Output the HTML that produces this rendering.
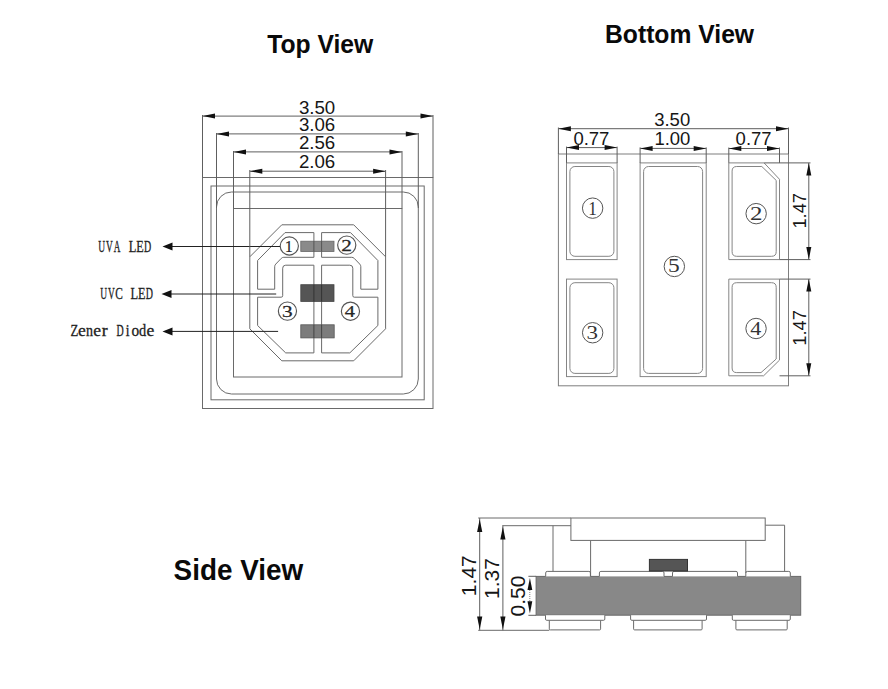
<!DOCTYPE html>
<html><head><meta charset="utf-8"><title>LED package drawing</title>
<style>
html,body{margin:0;padding:0;background:#fff;}
body{width:888px;height:689px;overflow:hidden;font-family:"Liberation Sans",sans-serif;}
svg{display:block;}
</style></head><body>
<svg width="888" height="689" viewBox="0 0 888 689">
<rect x="0" y="0" width="888" height="689" fill="#fff"/>
<text x="0" y="0" font-family="Liberation Sans" font-size="25.6" font-weight="bold" fill="#0a0a0a" transform="translate(267.2,52.65) scale(0.965,1)">Top View</text>
<text x="0" y="0" font-family="Liberation Sans" font-size="25.8" font-weight="bold" fill="#0a0a0a" transform="translate(605.0,43.4) scale(0.957,1)">Bottom View</text>
<text x="0" y="0" font-family="Liberation Sans" font-size="28.7" font-weight="bold" fill="#0a0a0a" transform="translate(173.6,580.3) scale(0.972,1)">Side View</text>
<rect x="202.5" y="177.5" width="230.5" height="231" rx="0" fill="none" stroke="#6a6a6a" stroke-width="1.0"/>
<rect x="211" y="186" width="213.2" height="213.8" rx="0" fill="none" stroke="#6a6a6a" stroke-width="1.0"/>
<rect x="216.5" y="192" width="201.8" height="202" rx="15" fill="none" stroke="#6a6a6a" stroke-width="1.0"/>
<rect x="233.5" y="208.5" width="168.5" height="168.5" rx="0" fill="none" stroke="#6a6a6a" stroke-width="1.0"/>
<polygon points="281.8,224.8 353.7,224.8 385.6,256.8 385.6,328.8 353.7,360.8 281.8,360.8 249.8,328.8 249.8,256.8" fill="none" stroke="#6a6a6a" stroke-width="1.0"/>
<path d="M285,232.6 L313.9,232.6 L313.9,257.3 L283.8,257.3 Q282.3,257.3 281.26,258.38 L275.74,264.12 Q274.7,265.2 274.7,266.7 L274.7,289.2 L257.6,289.2 L257.6,260.5 Z" fill="none" stroke="#6a6a6a" stroke-width="1.0"/>
<path d="M350.5,232.6 L321.6,232.6 L321.6,257.3 L351.7,257.3 Q353.2,257.3 354.24,258.38 L359.76,264.12 Q360.8,265.2 360.8,266.7 L360.8,289.2 L377.9,289.2 L377.9,260.5 Z" fill="none" stroke="#6a6a6a" stroke-width="1.0"/>
<path d="M282.7,268.2 Q282.7,265.2 285.7,265.2 L313.9,265.2 L313.9,352.9 L285.7,352.9 L257.6,325.5 L257.6,297.2 L281.2,297.2 Q282.7,297.2 282.7,295.7 Z" fill="none" stroke="#6a6a6a" stroke-width="1.0"/>
<path d="M352.8,268.2 Q352.8,265.2 349.8,265.2 L321.6,265.2 L321.6,352.9 L349.8,352.9 L377.9,325.5 L377.9,297.2 L354.3,297.2 Q352.8,297.2 352.8,295.7 Z" fill="none" stroke="#6a6a6a" stroke-width="1.0"/>
<rect x="300.8" y="241.2" width="33.2" height="10.3" rx="0" fill="#8a8a8a" stroke="#666" stroke-width="0.8"/>
<rect x="300.8" y="284.7" width="33.2" height="16.7" rx="0" fill="#555" stroke="#444" stroke-width="0.8"/>
<rect x="300.8" y="324.8" width="33.4" height="13.1" rx="0" fill="#7c7c7c" stroke="#555" stroke-width="0.8"/>
<line x1="313.9" y1="241.2" x2="313.9" y2="251.5" stroke="#555" stroke-width="1.0"/>
<line x1="313.9" y1="284.7" x2="313.9" y2="301.4" stroke="#333" stroke-width="1.0"/>
<line x1="313.9" y1="324.8" x2="313.9" y2="337.9" stroke="#444" stroke-width="1.0"/>
<line x1="321.6" y1="241.2" x2="321.6" y2="251.5" stroke="#555" stroke-width="1.0"/>
<line x1="321.6" y1="284.7" x2="321.6" y2="301.4" stroke="#333" stroke-width="1.0"/>
<line x1="321.6" y1="324.8" x2="321.6" y2="337.9" stroke="#444" stroke-width="1.0"/>
<circle cx="289.3" cy="246" r="9.1" fill="none" stroke="#555" stroke-width="1.15"/>
<text x="0" y="0" font-family="Liberation Serif" font-size="17" fill="#262626" stroke="#262626" stroke-width="0.25" transform="translate(285.06,251.51) scale(0.9,1)">1</text>
<circle cx="346.75" cy="245.1" r="9.1" fill="none" stroke="#555" stroke-width="1.15"/>
<text x="0" y="0" font-family="Liberation Serif" font-size="17" fill="#262626" stroke="#262626" stroke-width="0.25" transform="translate(341.26,250.58) scale(1.25,1)">2</text>
<circle cx="287.45" cy="311.1" r="9.1" fill="none" stroke="#555" stroke-width="1.15"/>
<text x="0" y="0" font-family="Liberation Serif" font-size="17" fill="#262626" stroke="#262626" stroke-width="0.25" transform="translate(281.94,317.04) scale(1.25,1)">3</text>
<circle cx="350.45" cy="311.2" r="9.1" fill="none" stroke="#555" stroke-width="1.15"/>
<text x="0" y="0" font-family="Liberation Serif" font-size="17" fill="#262626" stroke="#262626" stroke-width="0.25" transform="translate(344.76,316.74) scale(1.2,1)">4</text>
<line x1="165" y1="246.5" x2="280" y2="246.5" stroke="#222" stroke-width="1.0"/>
<polygon points="162.5,246.5 172.5,242.5 172.5,250.5" fill="#111"/>
<line x1="165" y1="294" x2="276.2" y2="294" stroke="#222" stroke-width="1.0"/>
<polygon points="161.5,294 171.5,290 171.5,298" fill="#111"/>
<line x1="165" y1="331.4" x2="278.1" y2="331.4" stroke="#222" stroke-width="1.0"/>
<polygon points="162.5,331.4 172.5,327.4 172.5,335.4" fill="#111"/>
<text x="0" y="0" font-family="Liberation Serif" font-size="15.8" fill="#222" stroke="#222" stroke-width="0.3" transform="translate(98.36,252.2) scale(0.6,1)">U</text>
<text x="0" y="0" font-family="Liberation Serif" font-size="15.8" fill="#222" stroke="#222" stroke-width="0.3" transform="translate(106.08,252.2) scale(0.59,1)">V</text>
<text x="0" y="0" font-family="Liberation Serif" font-size="15.8" fill="#222" stroke="#222" stroke-width="0.3" transform="translate(113.71,252.2) scale(0.58,1)">A</text>
<text x="0" y="0" font-family="Liberation Serif" font-size="15.8" fill="#222" stroke="#222" stroke-width="0.3" transform="translate(128.68,252.2) scale(0.79,1)">L</text>
<text x="0" y="0" font-family="Liberation Serif" font-size="15.8" fill="#222" stroke="#222" stroke-width="0.3" transform="translate(136.31,252.2) scale(0.77,1)">E</text>
<text x="0" y="0" font-family="Liberation Serif" font-size="15.8" fill="#222" stroke="#222" stroke-width="0.3" transform="translate(143.99,252.2) scale(0.63,1)">D</text>
<text x="0" y="0" font-family="Liberation Serif" font-size="15.8" fill="#222" stroke="#222" stroke-width="0.3" transform="translate(100.16,299.4) scale(0.6,1)">U</text>
<text x="0" y="0" font-family="Liberation Serif" font-size="15.8" fill="#222" stroke="#222" stroke-width="0.3" transform="translate(107.88,299.4) scale(0.59,1)">V</text>
<text x="0" y="0" font-family="Liberation Serif" font-size="15.8" fill="#222" stroke="#222" stroke-width="0.3" transform="translate(115.13,299.4) scale(0.72,1)">C</text>
<text x="0" y="0" font-family="Liberation Serif" font-size="15.8" fill="#222" stroke="#222" stroke-width="0.3" transform="translate(130.48,299.4) scale(0.79,1)">L</text>
<text x="0" y="0" font-family="Liberation Serif" font-size="15.8" fill="#222" stroke="#222" stroke-width="0.3" transform="translate(138.11,299.4) scale(0.77,1)">E</text>
<text x="0" y="0" font-family="Liberation Serif" font-size="15.8" fill="#222" stroke="#222" stroke-width="0.3" transform="translate(145.79,299.4) scale(0.63,1)">D</text>
<text x="0" y="0" font-family="Liberation Serif" font-size="15.8" fill="#222" stroke="#222" stroke-width="0.3" transform="translate(70.45,335.5) scale(0.81,1)">Z</text>
<text x="0" y="0" font-family="Liberation Serif" font-size="15.8" fill="#222" stroke="#222" stroke-width="0.3" transform="translate(77.99,335.5) scale(1.11,1)">e</text>
<text x="0" y="0" font-family="Liberation Serif" font-size="15.8" fill="#222" stroke="#222" stroke-width="0.3" transform="translate(85.98,335.5) scale(0.89,1)">n</text>
<text x="0" y="0" font-family="Liberation Serif" font-size="15.8" fill="#222" stroke="#222" stroke-width="0.3" transform="translate(93.23,335.5) scale(1.11,1)">e</text>
<text x="0" y="0" font-family="Liberation Serif" font-size="15.8" fill="#222" stroke="#222" stroke-width="0.3" transform="translate(101.74,335.5) scale(1.12,1)">r</text>
<text x="0" y="0" font-family="Liberation Serif" font-size="15.8" fill="#222" stroke="#222" stroke-width="0.3" transform="translate(116.49,335.5) scale(0.63,1)">D</text>
<text x="0" y="0" font-family="Liberation Serif" font-size="15.8" fill="#222" stroke="#222" stroke-width="0.3" transform="translate(125.77,335.5) scale(0.85,1)">i</text>
<text x="0" y="0" font-family="Liberation Serif" font-size="15.8" fill="#222" stroke="#222" stroke-width="0.3" transform="translate(131.44,335.5) scale(0.97,1)">o</text>
<text x="0" y="0" font-family="Liberation Serif" font-size="15.8" fill="#222" stroke="#222" stroke-width="0.3" transform="translate(139.12,335.5) scale(0.91,1)">d</text>
<text x="0" y="0" font-family="Liberation Serif" font-size="15.8" fill="#222" stroke="#222" stroke-width="0.3" transform="translate(146.57,335.5) scale(1.11,1)">e</text>
<line x1="202.5" y1="116.1" x2="433" y2="116.1" stroke="#5e5e5e" stroke-width="1.0"/>
<polygon points="202.5,116.1 215,113.6 215,118.6" fill="#111"/>
<polygon points="433,116.1 420.5,113.6 420.5,118.6" fill="#111"/>
<text x="298.9" y="113.5" font-family="Liberation Sans" font-size="18.7" font-weight="normal" fill="#161616" text-anchor="start">3.50</text>
<line x1="216.5" y1="133.9" x2="418.3" y2="133.9" stroke="#5e5e5e" stroke-width="1.0"/>
<polygon points="216.5,133.9 229,131.4 229,136.4" fill="#111"/>
<polygon points="418.3,133.9 405.8,131.4 405.8,136.4" fill="#111"/>
<text x="298.9" y="131" font-family="Liberation Sans" font-size="18.7" font-weight="normal" fill="#161616" text-anchor="start">3.06</text>
<line x1="233.5" y1="151.9" x2="402" y2="151.9" stroke="#5e5e5e" stroke-width="1.0"/>
<polygon points="233.5,151.9 246,149.4 246,154.4" fill="#111"/>
<polygon points="402,151.9 389.5,149.4 389.5,154.4" fill="#111"/>
<text x="298.9" y="148.9" font-family="Liberation Sans" font-size="18.7" font-weight="normal" fill="#161616" text-anchor="start">2.56</text>
<line x1="249.8" y1="171.2" x2="385.6" y2="171.2" stroke="#5e5e5e" stroke-width="1.0"/>
<polygon points="249.8,171.2 262.3,168.7 262.3,173.7" fill="#111"/>
<polygon points="385.6,171.2 373.1,168.7 373.1,173.7" fill="#111"/>
<text x="298.9" y="168" font-family="Liberation Sans" font-size="18.7" font-weight="normal" fill="#161616" text-anchor="start">2.06</text>
<line x1="202.5" y1="115" x2="202.5" y2="177.5" stroke="#5e5e5e" stroke-width="1.0"/>
<line x1="433" y1="115" x2="433" y2="177.5" stroke="#5e5e5e" stroke-width="1.0"/>
<line x1="216.5" y1="133" x2="216.5" y2="208" stroke="#5e5e5e" stroke-width="1.0"/>
<line x1="418.3" y1="133" x2="418.3" y2="208" stroke="#5e5e5e" stroke-width="1.0"/>
<line x1="233.5" y1="151" x2="233.5" y2="208.5" stroke="#5e5e5e" stroke-width="1.0"/>
<line x1="402" y1="151" x2="402" y2="208.5" stroke="#5e5e5e" stroke-width="1.0"/>
<line x1="249.8" y1="170" x2="249.8" y2="256.8" stroke="#5e5e5e" stroke-width="1.0"/>
<line x1="385.6" y1="170" x2="385.6" y2="256.8" stroke="#5e5e5e" stroke-width="1.0"/>
<rect x="558.4" y="154" width="230.1" height="231.8" rx="0" fill="none" stroke="#7e7e7e" stroke-width="1.0"/>
<rect x="566.5" y="162.9" width="50.6" height="96.7" rx="0" fill="none" stroke="#858585" stroke-width="1.0"/>
<rect x="569.9" y="166.5" width="44" height="89.8" rx="5" fill="none" stroke="#858585" stroke-width="1.0"/>
<rect x="566.5" y="279.1" width="50.6" height="97.5" rx="0" fill="none" stroke="#858585" stroke-width="1.0"/>
<rect x="569.9" y="282.7" width="44" height="90.7" rx="5" fill="none" stroke="#858585" stroke-width="1.0"/>
<rect x="640.1" y="162.9" width="66.1" height="213.7" rx="0" fill="none" stroke="#858585" stroke-width="1.0"/>
<rect x="643.6" y="166.5" width="59" height="206.9" rx="5" fill="none" stroke="#858585" stroke-width="1.0"/>
<polygon points="728.8,162.9 764.1,162.9 779.5,179.3 779.5,259.6 728.8,259.6" fill="none" stroke="#858585" stroke-width="1.0"/>
<path d="M732.1,171.1 Q732.1,166.5 736.7,166.5 L761.8,166.5 L776.2,180.4 L776.2,251.7 Q776.2,256.3 771.6,256.3 L736.7,256.3 Q732.1,256.3 732.1,251.7 Z" fill="none" stroke="#858585" stroke-width="1"/>
<polygon points="728.8,279.1 779.5,279.1 779.5,360.1 763.6,375.8 728.8,375.8" fill="none" stroke="#858585" stroke-width="1.0"/>
<path d="M732.1,287.3 Q732.1,282.7 736.7,282.7 L771.6,282.7 Q776.2,282.7 776.2,287.3 L776.2,359 L761,372.6 L736.7,372.6 Q732.1,372.6 732.1,368 Z" fill="none" stroke="#858585" stroke-width="1"/>
<circle cx="592.65" cy="208.15" r="10.2" fill="none" stroke="#555" stroke-width="1.0"/>
<text x="0" y="0" font-family="Liberation Serif" font-size="19.2" fill="#333" stroke="#333" stroke-width="0" transform="translate(588.29,215.04) scale(0.9,1)">1</text>
<circle cx="756.15" cy="213.65" r="10.2" fill="none" stroke="#555" stroke-width="1.0"/>
<text x="0" y="0" font-family="Liberation Serif" font-size="19.2" fill="#333" stroke="#333" stroke-width="0" transform="translate(750,219.91) scale(1.3,1)">2</text>
<circle cx="592.65" cy="332.75" r="10.2" fill="none" stroke="#555" stroke-width="1.0"/>
<text x="0" y="0" font-family="Liberation Serif" font-size="19.2" fill="#333" stroke="#333" stroke-width="0" transform="translate(586.49,339.46) scale(1.2,1)">3</text>
<circle cx="756.05" cy="328.5" r="10.2" fill="none" stroke="#555" stroke-width="1.0"/>
<text x="0" y="0" font-family="Liberation Serif" font-size="19.2" fill="#333" stroke="#333" stroke-width="0" transform="translate(750.24,334.72) scale(1.15,1)">4</text>
<circle cx="674.35" cy="266.45" r="10.2" fill="none" stroke="#555" stroke-width="1.0"/>
<text x="0" y="0" font-family="Liberation Serif" font-size="19.2" fill="#333" stroke="#333" stroke-width="0" transform="translate(668.02,272.29) scale(1.22,1)">5</text>
<line x1="558.4" y1="128.7" x2="788.5" y2="128.7" stroke="#5e5e5e" stroke-width="1.0"/>
<polygon points="558.4,128.7 570.9,126.2 570.9,131.2" fill="#111"/>
<polygon points="788.5,128.7 776,126.2 776,131.2" fill="#111"/>
<line x1="558.4" y1="127.5" x2="558.4" y2="154" stroke="#5e5e5e" stroke-width="1.0"/>
<line x1="788.5" y1="127.5" x2="788.5" y2="154" stroke="#5e5e5e" stroke-width="1.0"/>
<text x="654.2" y="125.5" font-family="Liberation Sans" font-size="18.5" font-weight="normal" fill="#161616" text-anchor="start">3.50</text>
<line x1="566.5" y1="147.6" x2="617.1" y2="147.6" stroke="#5e5e5e" stroke-width="1.0"/>
<polygon points="566.5,147.6 579,145.1 579,150.1" fill="#111"/>
<polygon points="617.1,147.6 604.6,145.1 604.6,150.1" fill="#111"/>
<line x1="566.5" y1="146.6" x2="566.5" y2="162.9" stroke="#5e5e5e" stroke-width="1.0"/>
<line x1="617.1" y1="146.6" x2="617.1" y2="162.9" stroke="#5e5e5e" stroke-width="1.0"/>
<text x="573.4" y="144.9" font-family="Liberation Sans" font-size="18.5" font-weight="normal" fill="#161616" text-anchor="start">0.77</text>
<line x1="640.1" y1="148.4" x2="706.2" y2="148.4" stroke="#5e5e5e" stroke-width="1.0"/>
<polygon points="640.1,148.4 652.6,145.9 652.6,150.9" fill="#111"/>
<polygon points="706.2,148.4 693.7,145.9 693.7,150.9" fill="#111"/>
<line x1="640.1" y1="147.4" x2="640.1" y2="162.9" stroke="#5e5e5e" stroke-width="1.0"/>
<line x1="706.2" y1="147.4" x2="706.2" y2="162.9" stroke="#5e5e5e" stroke-width="1.0"/>
<text x="654.4" y="144.9" font-family="Liberation Sans" font-size="18.5" font-weight="normal" fill="#161616" text-anchor="start">1.00</text>
<line x1="728.8" y1="148.5" x2="779.5" y2="148.5" stroke="#5e5e5e" stroke-width="1.0"/>
<polygon points="728.8,148.5 741.3,146 741.3,151" fill="#111"/>
<polygon points="779.5,148.5 767,146 767,151" fill="#111"/>
<line x1="728.8" y1="147.5" x2="728.8" y2="162.9" stroke="#5e5e5e" stroke-width="1.0"/>
<line x1="779.5" y1="147.5" x2="779.5" y2="162.9" stroke="#5e5e5e" stroke-width="1.0"/>
<text x="735.6" y="144.9" font-family="Liberation Sans" font-size="18.5" font-weight="normal" fill="#161616" text-anchor="start">0.77</text>
<line x1="764.1" y1="162.9" x2="810.5" y2="162.9" stroke="#5e5e5e" stroke-width="1.0"/>
<line x1="779.5" y1="259.6" x2="810.5" y2="259.6" stroke="#5e5e5e" stroke-width="1.0"/>
<line x1="779.5" y1="279.1" x2="810.5" y2="279.1" stroke="#5e5e5e" stroke-width="1.0"/>
<line x1="779.5" y1="375.8" x2="810.5" y2="375.8" stroke="#5e5e5e" stroke-width="1.0"/>
<line x1="808.8" y1="162.9" x2="808.8" y2="259.6" stroke="#5e5e5e" stroke-width="1.0"/>
<polygon points="808.8,162.9 806.3,175.4 811.3,175.4" fill="#111"/>
<polygon points="808.8,259.6 806.3,247.1 811.3,247.1" fill="#111"/>
<line x1="808.8" y1="279.1" x2="808.8" y2="375.8" stroke="#5e5e5e" stroke-width="1.0"/>
<polygon points="808.8,279.1 806.3,291.6 811.3,291.6" fill="#111"/>
<polygon points="808.8,375.8 806.3,363.3 811.3,363.3" fill="#111"/>
<text x="0" y="0" font-family="Liberation Sans" font-size="18.3" fill="#161616" text-anchor="middle" transform="translate(805.6,210.8) rotate(-90)">1.47</text>
<text x="0" y="0" font-family="Liberation Sans" font-size="18.3" fill="#161616" text-anchor="middle" transform="translate(805.8,327.9) rotate(-90)">1.47</text>
<rect x="536.1" y="576.4" width="264.6" height="38.8" rx="0" fill="#888" stroke="#6a6a6a" stroke-width="1"/>
<path d="M545.7,576.4 L545.7,572.9 Q545.7,571.4 547.2,571.4 L588.9,571.4 Q590.4,571.4 590.4,572.9 L590.4,576.4" fill="#fff" stroke="#6a6a6a" stroke-width="1"/>
<path d="M599.4,576.4 L599.4,572.9 Q599.4,571.4 600.9,571.4 L662.5,571.4 Q664,571.4 664,572.9 L664,576.4" fill="#fff" stroke="#6a6a6a" stroke-width="1"/>
<path d="M672.5,576.4 L672.5,572.9 Q672.5,571.4 674,571.4 L736,571.4 Q737.5,571.4 737.5,572.9 L737.5,576.4" fill="#fff" stroke="#6a6a6a" stroke-width="1"/>
<path d="M745.8,576.4 L745.8,572.9 Q745.8,571.4 747.3,571.4 L788.8,571.4 Q790.3,571.4 790.3,572.9 L790.3,576.4" fill="#fff" stroke="#6a6a6a" stroke-width="1"/>
<rect x="649.4" y="559.4" width="38.1" height="11.6" rx="0" fill="#555" stroke="#333" stroke-width="1"/>
<line x1="553" y1="525.7" x2="553" y2="571.4" stroke="#6a6a6a" stroke-width="1.0"/>
<line x1="590.6" y1="540.4" x2="590.6" y2="576.4" stroke="#6a6a6a" stroke-width="1.0"/>
<line x1="745.8" y1="540.4" x2="745.8" y2="573" stroke="#6a6a6a" stroke-width="1.0"/>
<line x1="765.2" y1="525.2" x2="784.6" y2="525.2" stroke="#6a6a6a" stroke-width="1.0"/>
<line x1="784.6" y1="525.2" x2="784.6" y2="571.5" stroke="#6a6a6a" stroke-width="1.0"/>
<rect x="570.9" y="518" width="194.3" height="22.4" rx="0" fill="#fff" stroke="#6a6a6a" stroke-width="1.0"/>
<path d="M549.3,620.3 L549.3,628.9 Q549.3,629.9 550.3,629.9 L599.6,629.9 Q600.6,629.9 600.6,628.9 L600.6,620.3" fill="#fff" stroke="#6a6a6a" stroke-width="1"/>
<path d="M545.5,615.2 L545.5,619.1 Q545.5,620.3 546.7,620.3 L603.6,620.3 Q604.8,620.3 604.8,619.1 L604.8,615.2" fill="#fff" stroke="#6a6a6a" stroke-width="1"/>
<path d="M633.6,620.3 L633.6,628.9 Q633.6,629.9 634.6,629.9 L701.1,629.9 Q702.1,629.9 702.1,628.9 L702.1,620.3" fill="#fff" stroke="#6a6a6a" stroke-width="1"/>
<path d="M630.6,615.2 L630.6,619.1 Q630.6,620.3 631.8,620.3 L705.3,620.3 Q706.5,620.3 706.5,619.1 L706.5,615.2" fill="#fff" stroke="#6a6a6a" stroke-width="1"/>
<path d="M735.9,620.3 L735.9,628.9 Q735.9,629.9 736.9,629.9 L786.2,629.9 Q787.2,629.9 787.2,628.9 L787.2,620.3" fill="#fff" stroke="#6a6a6a" stroke-width="1"/>
<path d="M732.3,615.2 L732.3,619.1 Q732.3,620.3 733.5,620.3 L789.1,620.3 Q790.3,620.3 790.3,619.1 L790.3,615.2" fill="#fff" stroke="#6a6a6a" stroke-width="1"/>
<line x1="478.2" y1="518" x2="570.9" y2="518" stroke="#6a6a6a" stroke-width="1.0"/>
<line x1="478.2" y1="630.3" x2="549.3" y2="630.3" stroke="#6a6a6a" stroke-width="1.0"/>
<line x1="502.3" y1="525.7" x2="570.9" y2="525.7" stroke="#6a6a6a" stroke-width="1.0"/>
<line x1="479.7" y1="518" x2="479.7" y2="630.3" stroke="#5e5e5e" stroke-width="1.0"/>
<polygon points="479.7,519.2 477.1,532 482.3,532" fill="#111"/>
<polygon points="479.7,629.5 477.1,616.5 482.3,616.5" fill="#111"/>
<line x1="502.9" y1="525.7" x2="502.9" y2="630.3" stroke="#5e5e5e" stroke-width="1.0"/>
<polygon points="502.9,526.8 500.3,539.6 505.5,539.6" fill="#111"/>
<polygon points="502.9,629.5 500.3,616.5 505.5,616.5" fill="#111"/>
<line x1="528.4" y1="576.3" x2="536.1" y2="576.3" stroke="#5e5e5e" stroke-width="1.0"/>
<line x1="528.4" y1="615.3" x2="536.1" y2="615.3" stroke="#5e5e5e" stroke-width="1.0"/>
<line x1="529.8" y1="588" x2="529.8" y2="603" stroke="#888" stroke-width="1" stroke-dasharray="1,1"/>
<polygon points="529.9,578 527.5,590 532.3,590" fill="#111"/>
<polygon points="529.9,613.6 527.5,601.2 532.3,601.2" fill="#111"/>
<text x="0" y="0" font-family="Liberation Sans" font-size="21" fill="#161616" text-anchor="middle" transform="translate(476.3,575.7) rotate(-90)">1.47</text>
<text x="0" y="0" font-family="Liberation Sans" font-size="21" fill="#161616" text-anchor="middle" transform="translate(499.2,578.5) rotate(-90)">1.37</text>
<text x="0" y="0" font-family="Liberation Sans" font-size="21" fill="#161616" text-anchor="middle" transform="translate(525.1,596) rotate(-90)">0.50</text>
</svg>
</body></html>
